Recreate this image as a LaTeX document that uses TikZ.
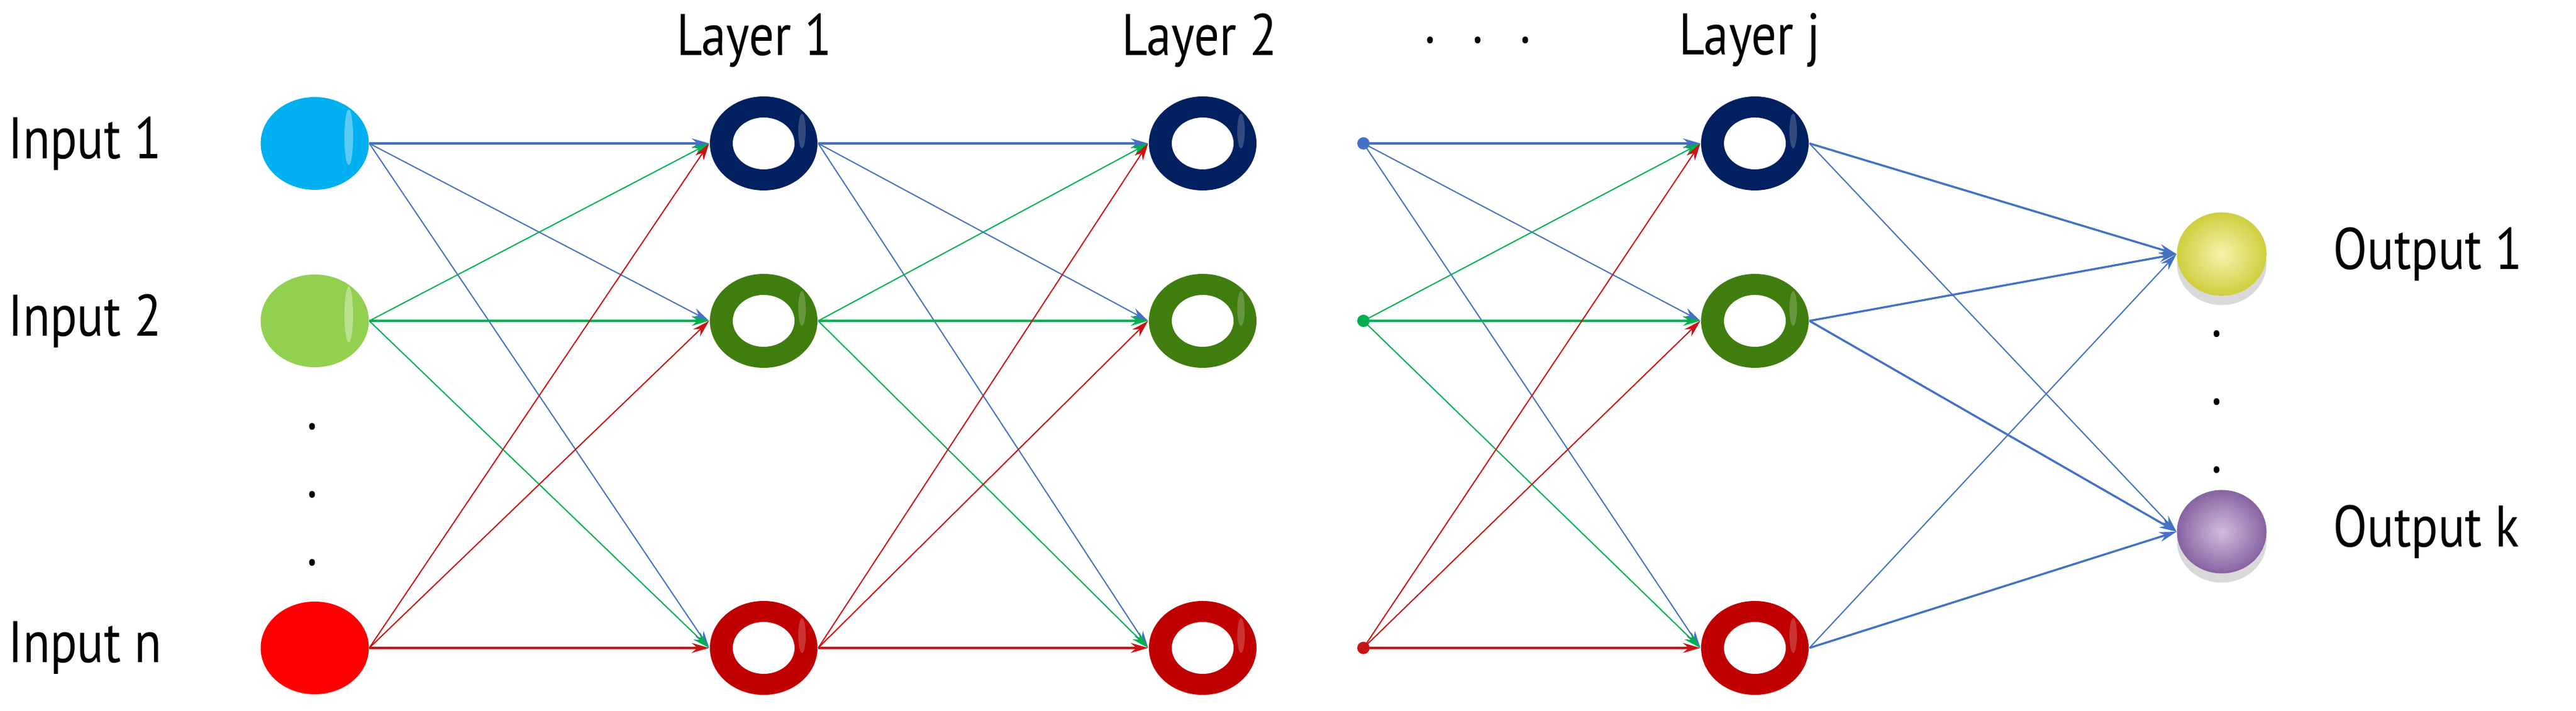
\documentclass[tikz,border=0pt]{standalone}
\usepackage{fontspec}
\setmainfont{PT Sans}[FakeStretch=0.85]
\usetikzlibrary{shapes.geometric,arrows.meta,shadows}
\definecolor{eb}{RGB}{68,114,196}
\definecolor{eg}{RGB}{0,176,80}
\definecolor{er}{RGB}{200,20,20}
\definecolor{rb}{RGB}{0,32,96}
\definecolor{rg}{RGB}{64,125,15}
\definecolor{rr}{RGB}{192,0,0}
\definecolor{ci}{RGB}{0,176,240}
\definecolor{gi}{RGB}{146,208,80}
\definecolor{ri}{RGB}{255,0,0}
\definecolor{yo}{RGB}{230,230,70}
\definecolor{vo}{RGB}{150,110,180}
\tikzset{
  nd/.style={ellipse,minimum width=1.75cm,minimum height=1.5cm,inner sep=0pt},
  inp/.style={nd,fill=#1},
  outp/.style={nd,minimum width=1.45cm,minimum height=1.35cm,inner color=#1!45!white,outer color=#1!90!black,drop shadow={opacity=0.3,shadow xshift=0.0cm,shadow yshift=-0.15cm}},
  pt/.style={circle,fill=#1,minimum size=0.2cm,inner sep=0pt},
  lbl/.style={font=\fontsize{27}{30}\selectfont,inner sep=0pt},
  e/.style={draw=#1,line width=0.55pt,-{Stealth[length=0.28cm,width=0.16cm]}},
  eh/.style={draw=#1,line width=0.95pt,-{Stealth[length=0.28cm,width=0.16cm]}},
}
\newcommand{\ringat}[3]{%
  \node[nd] (#1) at (#2) {};
  \fill[#3,even odd rule] (#2) ellipse (0.87cm and 0.76cm) (#2) ellipse (0.5cm and 0.42cm);
  \fill[white,opacity=0.2] ([xshift=0.62cm,yshift=0.2cm]#2) ellipse (0.06cm and 0.28cm);
}
\newcommand{\hl}[1]{\fill[white,opacity=0.35] ([xshift=0.55cm,yshift=0.1cm]#1) ellipse (0.07cm and 0.45cm);}
\begin{document}
\begin{tikzpicture}
\useasboundingbox (0,0) rectangle (41.66,11.5);
\node[inp=ci] (i1) at (5.09,9.18) {};
\node[inp=gi] (i2) at (5.09,6.31) {};
\node[inp=ri] (in) at (5.09,1.02) {};
\hl{i1}\hl{i2}
\ringat{a1}{12.35,9.18}{rb}
\ringat{a2}{12.35,6.31}{rg}
\ringat{an}{12.35,1.02}{rr}
\ringat{b1}{19.45,9.18}{rb}
\ringat{b2}{19.45,6.31}{rg}
\ringat{bn}{19.45,1.02}{rr}
\node[pt=eb] (d1) at (22.05,9.18) {};
\node[pt=eg] (d2) at (22.05,6.31) {};
\node[pt=er] (dn) at (22.05,1.02) {};
\ringat{c1}{28.38,9.18}{rb}
\ringat{c2}{28.38,6.31}{rg}
\ringat{cn}{28.38,1.02}{rr}
\node[outp=yo] (o1) at (35.93,7.39) {};
\node[outp=vo] (ok) at (35.93,2.90) {};
% labels
\node[lbl,anchor=west] (t1) at (0.13,9.18) {Input 1};
\node[lbl,anchor=west] (t2) at (0.13,6.31) {Input 2};
\node[lbl,anchor=west] (tn) at (0.13,1.02) {Input n};
\node[lbl] (l1) at (12.2,10.85) {Layer 1};
\node[lbl] (l2) at (19.4,10.85) {Layer 2};
\node[lbl] (ld) at (23.9,10.85) {.\hspace{0.6cm}.\hspace{0.6cm}.};
\node[lbl] (lj) at (28.3,10.85) {Layer j};
\node[lbl,anchor=west] (to1) at (37.73,7.39) {Output 1};
\node[lbl,anchor=west] (tok) at (37.73,2.90) {Output k};
\node[lbl] (v1) at (5.05,4.6) {.};
\node[lbl] (v2) at (5.05,3.5) {.};
\node[lbl] (v3) at (5.05,2.4) {.};
\node[lbl] (w1) at (35.85,6.1) {.};
\node[lbl] (w2) at (35.85,5.0) {.};
\node[lbl] (w3) at (35.85,3.9) {.};
% edges
\foreach \s/\c/\sr in {i1/eb/1,i2/eg/2,in/er/n}{
  \foreach \t/\tr in {a1/1,a2/2,an/n}{
    \ifx\sr\tr \draw[eh=\c] (\s.east) -- (\t.west); \else \draw[e=\c] (\s.east) -- (\t.west); \fi
  }}
\foreach \s/\c/\sr in {a1/eb/1,a2/eg/2,an/er/n}{
  \foreach \t/\tr in {b1/1,b2/2,bn/n}{
    \ifx\sr\tr \draw[eh=\c] (\s.east) -- (\t.west); \else \draw[e=\c] (\s.east) -- (\t.west); \fi
  }}
\foreach \s/\c/\sr in {d1/eb/1,d2/eg/2,dn/er/n}{
  \foreach \t/\tr in {c1/1,c2/2,cn/n}{
    \ifx\sr\tr \draw[eh=\c] (\s.center) -- (\t.west); \else \draw[e=\c] (\s.center) -- (\t.west); \fi
  }}
\draw[eh=eb] (c1.east) -- (o1.west);
\draw[eh=eb] (c2.east) -- (o1.west);
\draw[e=eb] (cn.east) -- (o1.west);
\draw[e=eb] (c1.east) -- (ok.west);
\draw[eh=eb] (c2.east) -- (ok.west);
\draw[eh=eb] (cn.east) -- (ok.west);
\end{tikzpicture}
\end{document}
